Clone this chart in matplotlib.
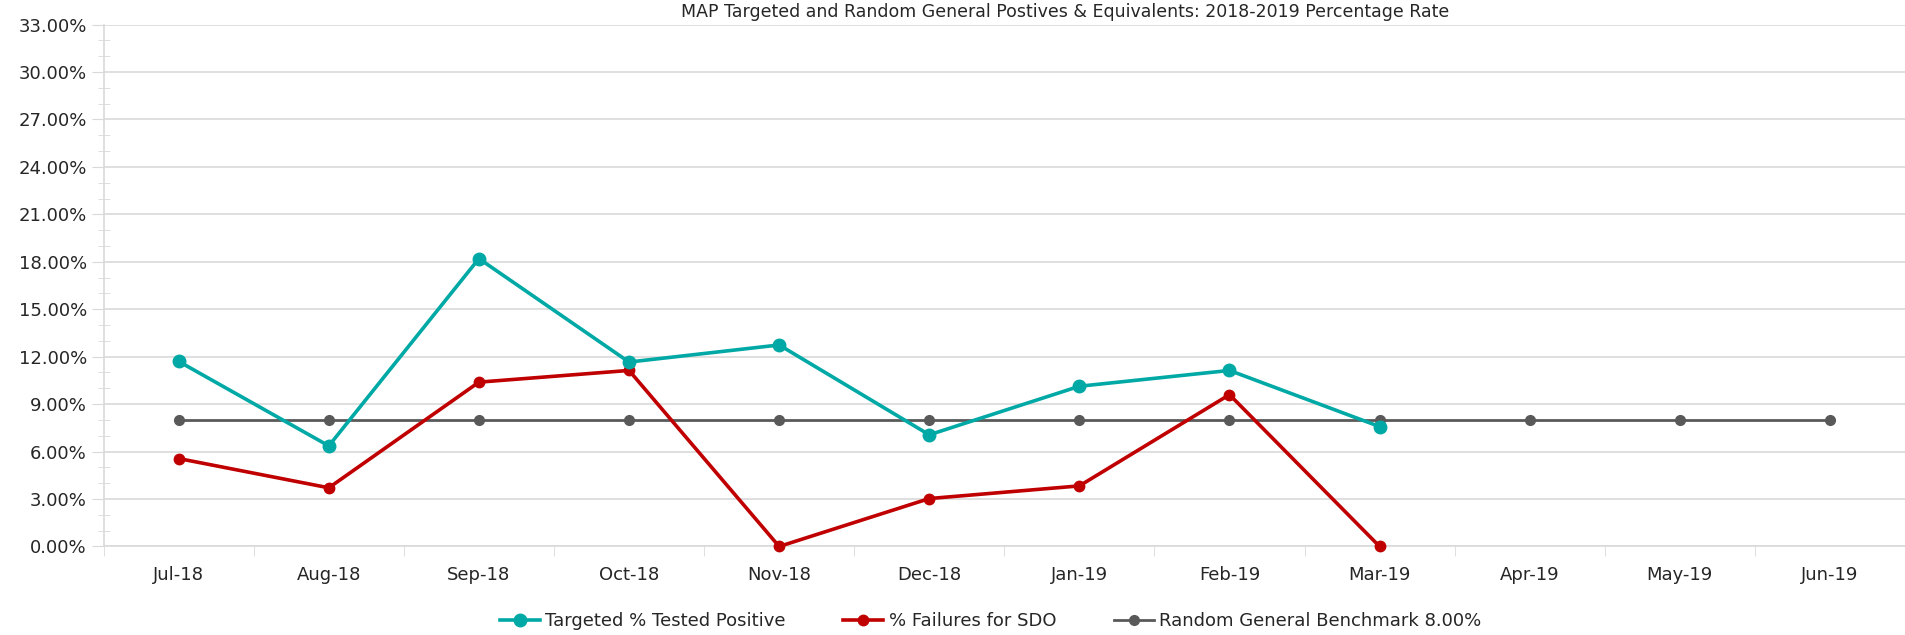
import matplotlib.pyplot as plt
import numpy as np
from matplotlib.ticker import MultipleLocator, FuncFormatter, FixedLocator

# Data (percent)
months = ["Jul-18", "Aug-18", "Sep-18", "Oct-18", "Nov-18", "Dec-18",
          "Jan-19", "Feb-19", "Mar-19", "Apr-19", "May-19", "Jun-19"]
targeted = [11.70, 6.36, 18.20, 11.66, 12.74, 7.06, 10.13, 11.13, 7.58]
sdo_fail = [5.56, 3.71, 10.39, 11.13, 0.00, 3.03, 3.83, 9.60, 0.00]
benchmark = [8.00] * 12

title = "MAP Targeted and Random General Postives & Equivalents: 2018-2019 Percentage Rate"
labels = ["Targeted % Tested Positive", "% Failures for SDO",
          "Random General Benchmark 8.00%"]

fig = plt.figure(figsize=(19.05, 6.35), dpi=100)
ax = fig.add_axes([0.0544, 0.1394, 0.9456, 0.822])

x = np.arange(len(months))
ax.plot(x[:len(targeted)], targeted, color="#00A9A5", lw=2.6, marker="o",
        ms=9, label=labels[0], zorder=4, clip_on=False)
ax.plot(x[:len(sdo_fail)], sdo_fail, color="#C00000", lw=2.6, marker="o",
        ms=7.5, label=labels[1], zorder=3, clip_on=False)
ax.plot(x, benchmark, color="#595959", lw=2, marker="o", ms=7,
        label=labels[2], zorder=2, clip_on=False)

ax.set_xlim(-0.5, len(months) - 0.5)
ax.set_ylim(0, 33)
ax.yaxis.set_major_locator(MultipleLocator(3))
ax.yaxis.set_minor_locator(MultipleLocator(1))
ax.yaxis.set_major_formatter(FuncFormatter(lambda v, p: f"{v:.2f}%"))
ax.set_xticks(x)
ax.set_xticklabels(months)
ax.xaxis.set_minor_locator(FixedLocator(np.arange(-0.5, len(months), 1)))

ax.grid(axis="y", which="major", color="#d9d9d9", lw=1.2)
for s in ["top", "right"]:
    ax.spines[s].set_visible(False)
for s in ["left", "bottom"]:
    ax.spines[s].set_color("#d9d9d9")
    ax.spines[s].set_linewidth(1.2)

ax.tick_params(axis="y", which="major", length=9, color="#d9d9d9",
               labelsize=13, labelcolor="#262626", pad=3)
ax.tick_params(axis="y", which="minor", length=8, direction="inout",
               color="#d9d9d9")
ax.tick_params(axis="x", which="major", length=0, labelsize=13,
               labelcolor="#262626", pad=14)
ax.tick_params(axis="x", which="minor", length=7, color="#d9d9d9")

fig.text(0.559, 0.981, title, ha="center", va="center", fontsize=12.5,
         color="#262626")

fig.legend(loc="center", bbox_to_anchor=(0.52, 0.022), ncol=3, frameon=False,
           prop={"size": 13}, handlelength=2.2,
           columnspacing=3.2, handletextpad=0.3, labelcolor="#262626")

fig.savefig("out.png", dpi=100)
